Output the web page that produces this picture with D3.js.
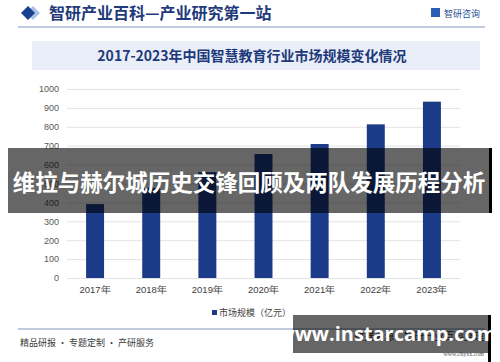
<!DOCTYPE html>
<html>
<head>
<meta charset="utf-8">
<script src="https://cdn.jsdelivr.net/npm/d3@7"></script>
<style>
  body { margin: 0; background: #fff; }
  svg { display: block; font-family: "Noto Sans CJK SC", "Noto Sans", sans-serif; }
</style>
</head>
<body>
<svg id="chart" width="500" height="362"></svg>
<script>
const years = ['2017年', '2018年', '2019年', '2020年', '2021年', '2022年', '2023年'];
const marketSize = [391, 477, 560, 656, 709, 813, 933];
const yTicks = [0, 100, 200, 300, 400, 500, 600, 700, 800, 900, 1000];

const svg = d3.select('#chart');
const navy = '#1f3a7a';

// header
svg.append('path')
  .attr('d', 'M33,6 L40,13 L33,20 L26,13 Z')
  .attr('fill', '#a9c1e6');
svg.append('path')
  .attr('d', 'M28,6 L35,13 L28,20 L21,13 Z')
  .attr('fill', '#17418f');
svg.append('text')
  .attr('x', 49).attr('y', 19)
  .attr('font-size', 16).attr('font-weight', 'bold')
  .attr('fill', navy)
  .text('智研产业百科—产业研究第一站');
svg.append('rect').attr('x', 431).attr('y', 8).attr('width', 9).attr('height', 9).attr('fill', '#2a5bb5');
svg.append('text')
  .attr('x', 444).attr('y', 16.5)
  .attr('font-size', 9).attr('fill', '#2a4f94')
  .text('智研咨询');
svg.append('line')
  .attr('x1', 18).attr('x2', 485).attr('y1', 27).attr('y2', 27)
  .attr('stroke', '#7f95bd').attr('stroke-width', 1);

// chart title box
svg.append('rect')
  .attr('x', 32).attr('y', 41).attr('width', 448).attr('height', 29)
  .attr('fill', '#e9eef8');
svg.append('text')
  .attr('x', 252).attr('y', 61)
  .attr('text-anchor', 'middle')
  .attr('font-size', 14).attr('font-weight', 'bold')
  .attr('fill', navy)
  .text('2017-2023年中国智慧教育行业市场规模变化情况');

// plot
const x = d3.scaleBand().domain(years).range([67, 460]).paddingInner(0.68).paddingOuter(0.34);
const y = d3.scaleLinear().domain([0, 1000]).range([278, 89]);

const yAxis = svg.append('g')
  .attr('transform', 'translate(67,0)')
  .call(d3.axisLeft(y).tickValues(yTicks).tickFormat(d3.format('d')).tickSize(-393).tickPadding(8));
yAxis.select('.domain').remove();
yAxis.selectAll('.tick line').attr('stroke', '#e3e3e3');
yAxis.selectAll('.tick text').attr('fill', '#595959').attr('font-size', 9)
  .attr('font-family', '"Liberation Sans", Arial, sans-serif');

svg.selectAll('.bar')
  .data(marketSize)
  .enter().append('rect')
  .attr('class', 'bar')
  .attr('x', (d, i) => x(years[i]))
  .attr('y', d => y(d))
  .attr('width', x.bandwidth())
  .attr('height', d => y(0) - y(d))
  .attr('fill', '#1b3a88');

const xAxis = svg.append('g')
  .attr('transform', 'translate(0,278)')
  .call(d3.axisBottom(x).tickSize(0).tickPadding(8));
xAxis.select('.domain').remove();
xAxis.selectAll('.tick text').attr('fill', '#404040').attr('font-size', 9.5);

// legend
svg.append('rect').attr('x', 212).attr('y', 310).attr('width', 5).attr('height', 5).attr('fill', '#1b3a88');
svg.append('text')
  .attr('x', 219).attr('y', 316)
  .attr('font-size', 9).attr('fill', '#404040')
  .text('市场规模（亿元）');

// footer
svg.append('line')
  .attr('x1', 18).attr('x2', 485).attr('y1', 329).attr('y2', 329)
  .attr('stroke', '#7f95bd').attr('stroke-width', 1);
svg.append('text')
  .attr('x', 20).attr('y', 346)
  .attr('font-size', 9).attr('fill', '#3a3a3a')
  .text('精品研报 · 专题定制 · 产研服务');
svg.append('text')
  .attr('x', 484).attr('y', 340)
  .attr('text-anchor', 'end')
  .attr('font-size', 10).attr('fill', '#3a3a3a')
  .text('数据来源：智研产业百科整理');
svg.append('text')
  .attr('x', 484).attr('y', 356)
  .attr('text-anchor', 'end')
  .attr('font-size', 6).attr('fill', '#555')
  .attr('font-family', '"Liberation Serif", serif')
  .text('www.chyxx.com');

// overlay banners
svg.append('rect').attr('x', 8).attr('y', 148).attr('width', 484).attr('height', 65).attr('fill', 'rgba(0,0,0,0.6)');
svg.append('rect').attr('x', 489).attr('y', 148).attr('width', 3).attr('height', 65).attr('fill', '#000');
svg.append('text')
  .attr('x', 249).attr('y', 191)
  .attr('text-anchor', 'middle')
  .attr('font-size', 22.5).attr('font-weight', 'bold')
  .attr('fill', '#fff')
  .text('维拉与赫尔城历史交锋回顾及两队发展历程分析');

svg.append('rect').attr('x', 293).attr('y', 315).attr('width', 198).attr('height', 38).attr('fill', 'rgba(0,0,0,0.6)');
svg.append('rect').attr('x', 488).attr('y', 315).attr('width', 3).attr('height', 47).attr('fill', '#000');
svg.append('text')
  .attr('x', 387).attr('y', 341)
  .attr('text-anchor', 'middle')
  .attr('font-size', 20).attr('font-weight', 'bold')
  .attr('fill', '#fff')
  .attr('font-family', '"Open Sans", "DejaVu Sans", sans-serif')
  .text('www.instarcamp.com');
</script>
</body>
</html>
